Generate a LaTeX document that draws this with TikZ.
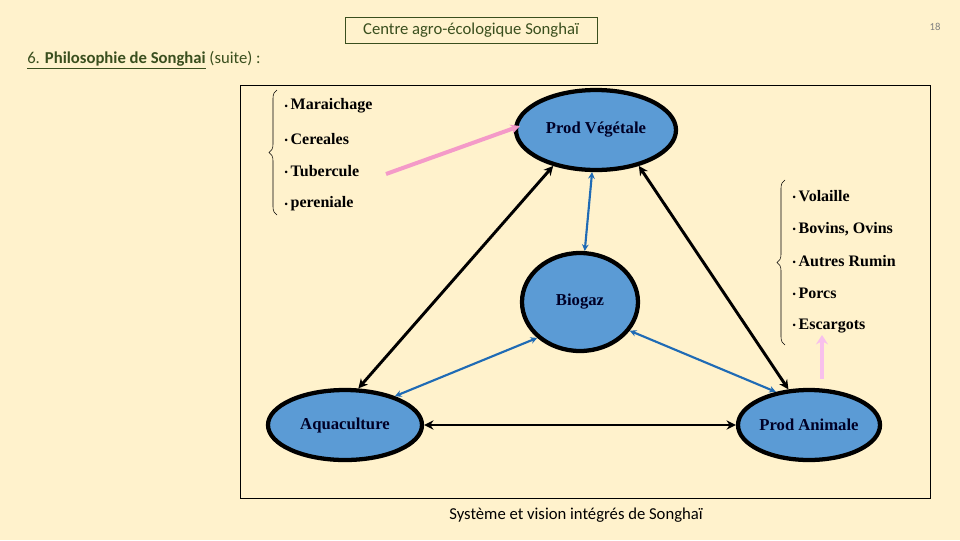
\documentclass[tikz,border=0pt]{standalone}
\usepackage{fontspec}
\setmainfont{Liberation Serif}
\newfontfamily\calib{Carlito}
\usetikzlibrary{shapes.geometric,arrows.meta,decorations.pathreplacing}
\definecolor{bg}{HTML}{FFF2CC}
\definecolor{fillb}{HTML}{5B9BD5}
\definecolor{blueln}{HTML}{1F6BB5}
\definecolor{titleg}{HTML}{3A4F1E}
\definecolor{pinkA}{HTML}{F49AC8}
\definecolor{pinkB}{HTML}{F8C0EC}
\newcommand{\bul}{{\fontsize{7}{8}\selectfont\raisebox{0.15ex}{\textbullet}}\,}
\begin{document}
\begin{tikzpicture}[x=0.75pt,y=-0.75pt,
  ell/.style={ellipse,draw=black,line width=3.2pt,fill=fillb,inner sep=0pt,font=\bfseries\fontsize{12.5}{14}\selectfont,text=black!85!blue},
  blk/.style={line width=2.2pt,{Stealth[length=7pt,width=7pt]}-{Stealth[length=7pt,width=7pt]}},
  blu/.style={line width=1.6pt,draw=blueln,{Stealth[length=5pt,width=5pt]}-{Stealth[length=5pt,width=5pt]}},
  item/.style={anchor=west,font=\bfseries\fontsize{12}{14}\selectfont},
  brc/.style={decorate,decoration={brace,amplitude=6pt},thin}]
\fill[bg] (0,0) rectangle (960,540);
\useasboundingbox (0,0) rectangle (960,540);
\node[draw=titleg,thin,minimum width=252*0.75pt,minimum height=26*0.75pt,font=\calib\fontsize{12.5}{14}\selectfont,text=titleg] (title) at (471,30) {Centre agro-écologique Songhaï};
\node[font=\calib\fontsize{8}{9}\selectfont,text=gray] (num) at (935,27) {18};
\node[anchor=west,font=\calib\fontsize{12.5}{14}\selectfont,text=titleg,inner sep=0pt] (head) at (27,60) {\underline{6. \textbf{Philosophie de Songhai}} (suite) :};
\draw[thin] (240,85) rectangle (930,498);
\node[ell,minimum width=160*0.75pt,minimum height=80*0.75pt] (pv) at (596,130) {Prod Végétale};
\node[ell,minimum width=116*0.75pt,minimum height=98*0.75pt] (bio) at (580,302) {Biogaz};
\node[ell,minimum width=154*0.75pt,minimum height=70*0.75pt] (aq) at (345,425) {Aquaculture};
\node[ell,minimum width=142*0.75pt,minimum height=70*0.75pt] (pa) at (809,425) {Prod Animale};
\node[item] (l1) at (280,106) {\bul Maraichage};
\node[item] (l2) at (280,139) {\bul Cereales};
\node[item] (l3) at (280,171) {\bul Tubercule};
\node[item] (l4) at (280,204) {\bul pereniale};
\draw[brc] (277,215) -- (277,90);
\node[item] (r1) at (788,196) {\bul Volaille};
\node[item] (r2) at (788,229) {\bul Bovins, Ovins};
\node[item] (r3) at (788,261) {\bul Autres Rumin};
\node[item] (r4) at (788,293) {\bul Porcs};
\node[item] (r5) at (788,326) {\bul Escargots};
\draw[brc] (785,345) -- (785,180);
\draw[blk] (aq.70) -- (pv.220);
\draw[blk] (pv.-40) -- (pa.120);
\draw[blk] (aq) -- (pa);
\draw[blu] (pv) -- (bio);
\draw[blu] (bio.220) -- (aq.30);
\draw[blu] (bio.-30) -- (pa.135);
\coordinate (pk1) at (386,174);
\coordinate (pk0) at (520,126);
\draw[pinkA,line width=3pt,-{Stealth[length=7pt,width=7pt]}] (pk1) -- (pk0);
\coordinate (pk2) at (822,379);
\coordinate (pk3) at (822,335);
\draw[pinkB,line width=3.5pt,-{Stealth[length=7pt,width=9pt]}] (pk2) -- (pk3);
\node[font=\calib\fontsize{12.5}{14}\selectfont] (cap) at (576,515) {Système et vision intégrés de Songhaï};
\end{tikzpicture}
\end{document}
